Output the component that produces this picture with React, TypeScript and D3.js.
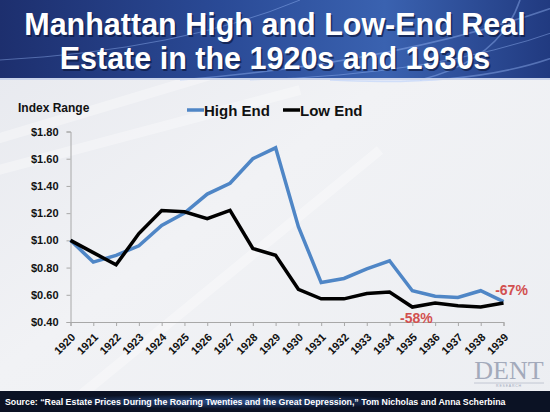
import { useEffect, useRef } from 'react'
import * as d3 from 'd3'

const YEARS = [1920, 1921, 1922, 1923, 1924, 1925, 1926, 1927, 1928, 1929,
  1930, 1931, 1932, 1933, 1934, 1935, 1936, 1937, 1938, 1939]
const HIGH_END = [1.0, 0.84, 0.89, 0.96, 1.11, 1.2, 1.34, 1.42, 1.6, 1.68,
  1.1, 0.69, 0.72, 0.79, 0.85, 0.63, 0.59, 0.58, 0.63, 0.55]
const LOW_END = [1.0, 0.91, 0.82, 1.05, 1.22, 1.21, 1.16, 1.22, 0.94, 0.89,
  0.64, 0.57, 0.57, 0.61, 0.62, 0.51, 0.54, 0.52, 0.51, 0.54]
const Y_TICKS = [0.4, 0.6, 0.8, 1.0, 1.2, 1.4, 1.6, 1.8]
const SERIES = [
  { label: 'High End', values: HIGH_END, color: '#4f86c6' },
  { label: 'Low End', values: LOW_END, color: '#000000' },
]
const ANNOTATIONS = [
  { text: '-67%', year: 1939, value: 0.55, dx: 8, dy: -7 },
  { text: '-58%', year: 1935, value: 0.51, dx: 4, dy: 16 },
]
const TITLE = ['Manhattan High and Low-End Real', 'Estate in the 1920s and 1930s']
const SOURCE = 'Source: \u201cReal Estate Prices During the Roaring Twenties and the Great Depression,\u201d Tom Nicholas and Anna Scherbina'

const W = 550
const H = 412
const FONT = 'Liberation Sans, Arial, sans-serif'

export default function App() {
  const svgRef = useRef<SVGSVGElement>(null)

  useEffect(() => {
    if (!svgRef.current) return
    const svg = d3.select(svgRef.current)
    svg.selectAll('*').remove()
    const defs = svg.append('defs')

    // backgrounds
    const bg = defs.append('linearGradient').attr('id', 'bg').attr('x1', '0').attr('y1', '0').attr('x2', '1').attr('y2', '1')
    bg.append('stop').attr('offset', '0%').attr('stop-color', '#e6e8ee')
    bg.append('stop').attr('offset', '45%').attr('stop-color', '#f1f2f5')
    bg.append('stop').attr('offset', '100%').attr('stop-color', '#eceef2')
    const hd = defs.append('linearGradient').attr('id', 'hd').attr('x1', '0').attr('y1', '0').attr('x2', '1').attr('y2', '0')
    hd.append('stop').attr('offset', '0%').attr('stop-color', '#1d2f6e')
    hd.append('stop').attr('offset', '40%').attr('stop-color', '#2a4a96')
    hd.append('stop').attr('offset', '70%').attr('stop-color', '#3a62b0')
    hd.append('stop').attr('offset', '100%').attr('stop-color', '#213a80')
    const ft = defs.append('radialGradient').attr('id', 'ft').attr('cx', '0.42').attr('cy', '0.5').attr('r', '0.35')
    ft.append('stop').attr('offset', '0%').attr('stop-color', '#2b4f8c')
    ft.append('stop').attr('offset', '100%').attr('stop-color', '#0b1224')

    svg.append('rect').attr('width', W).attr('height', H).attr('fill', 'url(#bg)')
    // soft streaks in the plot background
    ;[[-40, 150, 260, 60], [-20, 175, 300, 90], [60, 412, 380, 150]].forEach(([x1, y1, x2, y2]) => {
      svg.append('line').attr('x1', x1).attr('y1', y1).attr('x2', x2).attr('y2', y2)
        .attr('stroke', '#ffffff').attr('stroke-width', 10).attr('opacity', 0.35)
    })

    // header
    svg.append('rect').attr('width', W).attr('height', 80).attr('fill', 'url(#hd)')
    const streaks = [[180, 80, 560, 5], [250, 80, 560, 30], [330, 80, 560, 55], [0, 60, 300, 0], [420, 80, 520, 0]]
    streaks.forEach(([x1, y1, x2, y2], i) => {
      svg.append('path')
        .attr('d', `M${x1},${y1} Q${(x1 + x2) / 2 + 30},${(y1 + y2) / 2 + 20} ${x2},${y2}`)
        .attr('fill', 'none').attr('stroke', '#9fc0ff').attr('stroke-width', i % 2 ? 1 : 1.6).attr('opacity', 0.4)
    })
    svg.append('rect').attr('y', 78).attr('width', W).attr('height', 2).attr('fill', '#c9d3ea')
    TITLE.forEach((t, i) => {
      svg.append('text').attr('x', W / 2 + 1.5).attr('y', 35 + i * 34 + 1.5)
        .attr('text-anchor', 'middle').attr('font-family', FONT).attr('font-weight', 700)
        .attr('font-size', 30.5).attr('fill', '#0c1840').attr('opacity', 0.7).text(t)
      svg.append('text').attr('x', W / 2).attr('y', 35 + i * 34)
        .attr('text-anchor', 'middle').attr('font-family', FONT).attr('font-weight', 700)
        .attr('font-size', 30.5).attr('fill', '#ffffff').text(t)
    })

    // footer
    svg.append('rect').attr('y', 391).attr('width', W).attr('height', H - 391).attr('fill', 'url(#ft)')
    svg.append('text').attr('x', 5).attr('y', 405).attr('font-family', FONT).attr('font-weight', 700)
      .attr('font-size', 8.8).attr('fill', '#ffffff').text(SOURCE)

    // scales
    const x = d3.scaleLinear().domain([YEARS[0], YEARS[YEARS.length - 1]]).range([70.5, 503.5])
    const y = d3.scaleLinear().domain([0.4, 1.8]).range([322, 131.5])

    const g = svg.append('g')
    const yAxis = g.append('g').attr('transform', `translate(${x(YEARS[0])},0)`)
      .call(d3.axisLeft(y).tickValues(Y_TICKS).tickSize(4).tickPadding(8).tickFormat((d) => `$${(d as number).toFixed(2)}`))
    yAxis.select('.domain').attr('stroke', '#a8a8a8')
    yAxis.selectAll('line').attr('stroke', '#a8a8a8')
    yAxis.selectAll('text').attr('font-family', FONT).attr('font-weight', 700).attr('font-size', 11).attr('fill', '#111')

    const xAxis = g.append('g').attr('transform', `translate(0,${y(0.4)})`)
      .call(d3.axisBottom(x).tickValues(YEARS).tickSize(4).tickFormat((d) => String(d)))
    xAxis.select('.domain').attr('stroke', '#a8a8a8')
    xAxis.selectAll('line').attr('stroke', '#a8a8a8')
    xAxis.selectAll('text').attr('font-family', FONT).attr('font-weight', 700).attr('font-size', 11).attr('fill', '#111')
      .attr('text-anchor', 'end').attr('dy', null).attr('y', null)
      .attr('transform', 'translate(5,16) rotate(-45)')

    g.append('text').attr('x', 18).attr('y', 112).attr('font-family', FONT).attr('font-weight', 700)
      .attr('font-size', 12).attr('fill', '#111').text('Index Range')

    // lines
    const line = d3.line<number>().x((_, i) => x(YEARS[i])).y((d) => y(d))
    SERIES.forEach((s) => {
      g.append('path').datum(s.values).attr('d', line).attr('fill', 'none')
        .attr('stroke', s.color).attr('stroke-width', 3.5).attr('stroke-linejoin', 'miter')
    })

    // legend
    const legX = [187, 283]
    SERIES.forEach((s, i) => {
      g.append('line').attr('x1', legX[i]).attr('x2', legX[i] + 17).attr('y1', 110).attr('y2', 110)
        .attr('stroke', s.color).attr('stroke-width', 3.5)
      g.append('text').attr('x', legX[i] + 17).attr('y', 115.5).attr('font-family', FONT).attr('font-weight', 700)
        .attr('font-size', 15).attr('fill', '#111').text(s.label)
    })

    // annotations
    ANNOTATIONS.forEach((a) => {
      g.append('text').attr('x', x(a.year) + a.dx).attr('y', y(a.value) + a.dy)
        .attr('text-anchor', 'middle').attr('font-family', FONT).attr('font-weight', 700)
        .attr('font-size', 14).attr('fill', '#d24f4f').text(a.text)
    })

    // logo
    g.append('text').attr('x', 509).attr('y', 379).attr('text-anchor', 'middle')
      .attr('font-family', 'Liberation Serif, Times New Roman, serif').attr('font-size', 26)
      .attr('fill', '#a3aabb').text('DENT')
    g.append('line').attr('x1', 474).attr('x2', 544).attr('y1', 383).attr('y2', 383)
      .attr('stroke', '#b8bdca').attr('stroke-width', 0.8)
    g.append('text').attr('x', 509).attr('y', 387).attr('text-anchor', 'middle')
      .attr('font-family', FONT).attr('font-size', 3.5).attr('letter-spacing', 0.8)
      .attr('fill', '#a3aabb').text('RESEARCH')
  }, [])

  return (
    <svg ref={svgRef} width={W} height={H}
      style={{ position: 'absolute', left: 0, top: 0, display: 'block' }} />
  )
}
